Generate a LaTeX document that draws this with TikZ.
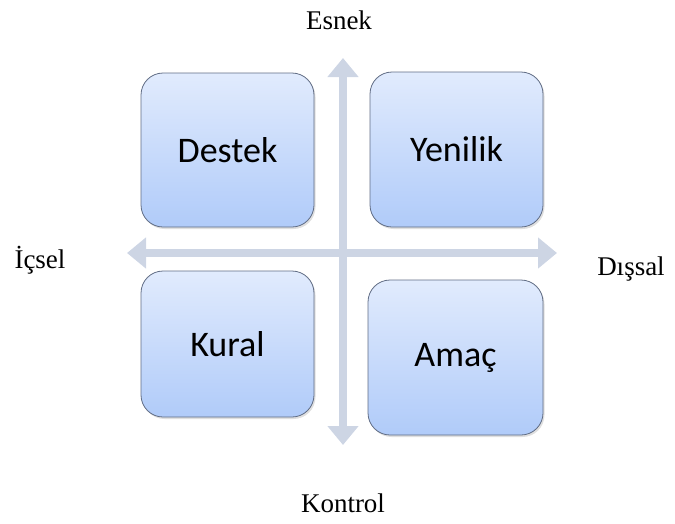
\documentclass[tikz,border=0pt]{standalone}
\usepackage{fontspec}
\setmainfont{Liberation Serif}
\newfontfamily\boxfont{Carlito}
\usepackage{xcolor}
\usetikzlibrary{arrows.meta,shadows,positioning}

\definecolor{boxtop}{HTML}{E1EBFD}
\definecolor{boxbottom}{HTML}{B0CBF9}
\definecolor{boxline}{HTML}{606C84}
\definecolor{axisblue}{HTML}{CDD5E4}

\begin{document}
\begin{tikzpicture}[x=1pt,y=-1pt,
    quad/.style={draw=boxline, line width=0.8pt, rounded corners=22pt,
        top color=boxtop, bottom color=boxbottom,
        drop shadow={opacity=0.25, shadow xshift=1.5pt, shadow yshift=-2pt},
        font=\boxfont\fontsize{36}{40}\selectfont, align=center, inner sep=0pt},
    axis/.style={draw=axisblue, line width=8pt,
        {Triangle[width=30pt,length=19pt]}-{Triangle[width=30pt,length=19pt]}},
    side/.style={font=\fontsize{27}{30}\selectfont}]
        \useasboundingbox (0,0) rectangle (675,523);
        % ends of the two axes
        \coordinate (N) at (343,58);
        \coordinate (S) at (343,445);
        \coordinate (W) at (127,253);
        \coordinate (E) at (557,253);
        \path[axis] (N) -- (S);
        \path[axis] (W) -- (E);
        % the four quadrants
        \node[quad, minimum width=173pt, minimum height=154pt] (destek) at (227.5,150) {Destek};
        \node[quad, minimum width=173pt, minimum height=155pt] (yenilik) at (456.5,149.5) {Yenilik};
        \node[quad, minimum width=173pt, minimum height=146pt] (kural) at (227.5,344) {Kural};
        \node[quad, minimum width=175pt, minimum height=155pt] (amac) at (455.5,357.5) {Amaç};
        % axis labels
        \node[side] (esnek) at (339,20) {Esnek};
        \node[side] (kontrol) at (343,503) {Kontrol};
        \node[side] (icsel) at (40,260) {İçsel};
        \node[side] (dissal) at (631,269) {Dışsal};
    \end{tikzpicture}
\end{document}
